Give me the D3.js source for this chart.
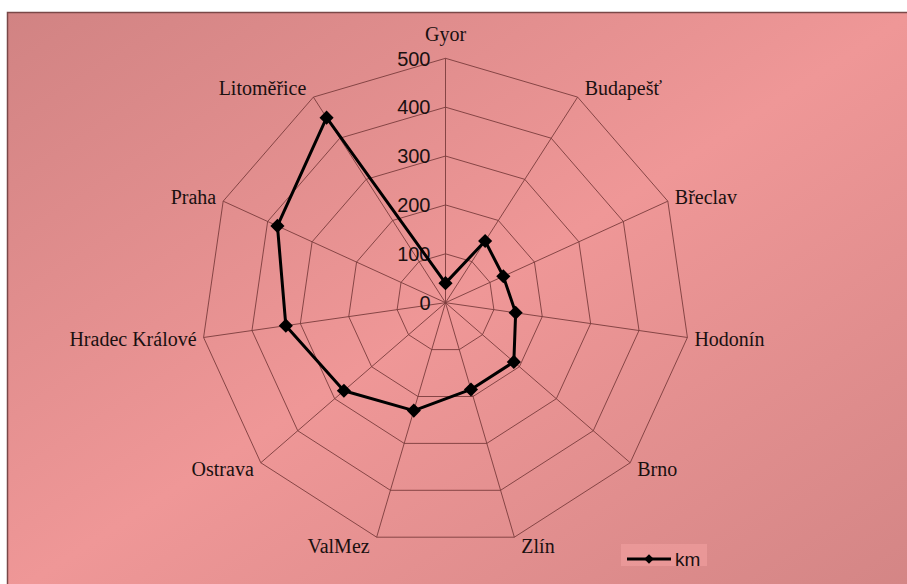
<!DOCTYPE html>
<html><head><meta charset="utf-8">
<script src="https://cdn.jsdelivr.net/npm/d3@7"></script>
<style>html,body{margin:0;padding:0;background:#fff;}svg{display:block;}</style>
</head><body>
<svg id="chart" width="907" height="584"></svg>
<script>
const categories = ["Gyor","Budapešť","Břeclav","Hodonín","Brno","Zlín","ValMez","Ostrava","Hradec Králové","Praha","Litoměřice"];
const kmValues = [40,150,130,145,185,185,230,275,330,378,450];
const tickValues = [0,100,200,300,400,500];
const seriesName = "km";

const svg = d3.select("#chart");
const W = 907, H = 584;
const cx = 445.5, cy = 302.7, R = 244.4;

const defs = svg.append("defs");
const g = defs.append("linearGradient").attr("id","bg").attr("x1",0).attr("y1",0).attr("x2",1).attr("y2",1);
g.append("stop").attr("offset","0%").attr("stop-color","#d18383");
g.append("stop").attr("offset","50%").attr("stop-color","#ef9797");
g.append("stop").attr("offset","100%").attr("stop-color","#d38585");

svg.append("rect").attr("x",7.5).attr("y",12.5).attr("width",W).attr("height",H)
  .attr("fill","url(#bg)").attr("stroke","#7a4848").attr("stroke-width",1.5);

const r = d3.scaleLinear().domain([0,500]).range([0,R]);
const angle = d3.scaleLinear().domain([0,categories.length]).range([0,2*Math.PI]);
const pt = (i,v) => [cx + r(v)*Math.sin(angle(i)), cy - r(v)*Math.cos(angle(i))];

const grid = svg.append("g").attr("stroke","#7a3c3c").attr("stroke-width",0.9).attr("fill","none");
tickValues.filter(t=>t>0).forEach(t=>{
  grid.append("path").attr("d", d3.line()(categories.map((c,i)=>pt(i,t))) + "Z");
});
categories.forEach((c,i)=>{
  const [x,y] = pt(i,500);
  grid.append("line").attr("x1",cx).attr("y1",cy).attr("x2",x).attr("y2",y);
});

// tick labels
svg.append("g").selectAll("text").data(tickValues).join("text")
  .attr("x",cx-15).attr("y",d=>cy-r(d)).attr("dy","0.36em")
  .attr("text-anchor","end").attr("font-family","Liberation Sans, Arial, sans-serif")
  .attr("font-size",20).attr("fill","#1a1010").text(d=>d);

// category labels
svg.append("g").selectAll("text").data(categories).join("text")
  .each(function(d,i){
    const a = angle(i);
    const [x,y] = pt(i,500);
    const s = Math.sin(a);
    const t = d3.select(this);
    if (Math.abs(s) < 0.01) {
      t.attr("x",x).attr("y",y-17).attr("text-anchor","middle");
    } else {
      t.attr("x", x + (s>0?7:-7)).attr("y", y - Math.cos(a)*10).attr("dy","0.33em")
       .attr("text-anchor", s>0?"start":"end");
    }
  })
  .attr("font-family","Liberation Serif, Times New Roman, serif")
  .attr("font-size",20).attr("fill","#1a1010").text(d=>d);

// series
const pts = kmValues.map((v,i)=>pt(i,v));
svg.append("path").attr("d", d3.line()(pts)+"Z").attr("fill","none")
  .attr("stroke","#000").attr("stroke-width",3).attr("stroke-linejoin","round");
const diamond = d3.symbol().type(d3.symbolDiamond2).size(110);
svg.append("g").selectAll("path").data(pts).join("path")
  .attr("transform",d=>`translate(${d[0]},${d[1]}) rotate(0)`)
  .attr("d", d3.symbol().type(d3.symbolSquare).size(100)())
  .attr("transform",d=>`translate(${d[0]},${d[1]}) rotate(45)`)
  .attr("fill","#000");

// legend
const lg = svg.append("g");
lg.append("rect").attr("x",621).attr("y",544).attr("width",86).attr("height",22).attr("fill","#f2a0a0").attr("opacity",0.6);
lg.append("line").attr("x1",627).attr("x2",671).attr("y1",559).attr("y2",559).attr("stroke","#000").attr("stroke-width",3);
lg.append("path").attr("d", d3.symbol().type(d3.symbolSquare).size(45)()).attr("transform","translate(649,559) rotate(45)").attr("fill","#000");
lg.append("text").attr("x",675).attr("y",559).attr("dy","0.36em").attr("font-family","Liberation Sans, Arial, sans-serif")
  .attr("font-size",19).attr("fill","#1a1010").text(seriesName);
</script>
</body></html>
